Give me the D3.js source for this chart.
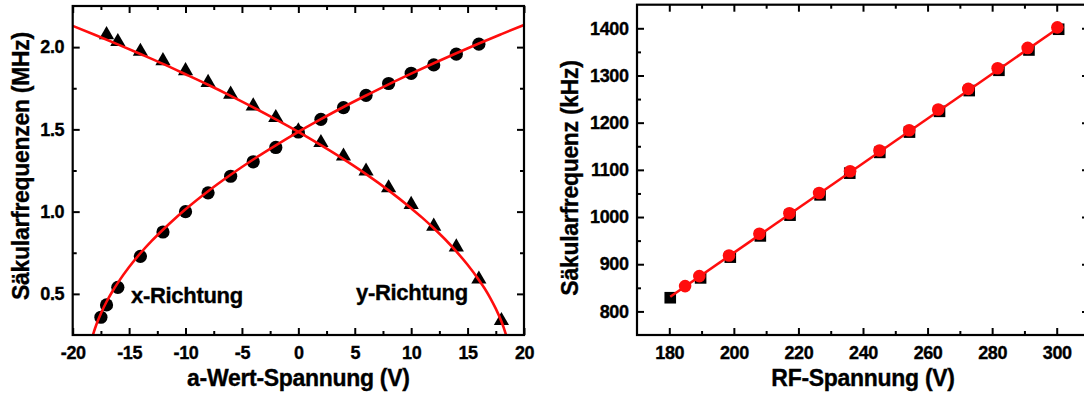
<!DOCTYPE html>
<html>
<head>
<meta charset="utf-8">
<script src="https://cdn.jsdelivr.net/npm/d3@7"></script>
<style>
  body { margin: 0; background: #fff; }
  svg { display: block; font-family: "Liberation Sans", Arial, sans-serif; font-weight: bold; }
  svg text { stroke: #000; stroke-width: 0.35px; }
</style>
</head>
<body>
<svg id="chart" width="1084" height="396"></svg>
<script>
// ---- Left panel: secular frequencies vs. a-voltage ----
const aVoltageX = [-17.5, -17, -16, -14, -12, -10, -8, -6, -4, -2, 0, 2, 4, 6, 8, 10, 12, 14, 16];
const freqX     = [0.358, 0.433, 0.54, 0.728, 0.876, 1.0, 1.114, 1.215, 1.303, 1.39, 1.484, 1.561, 1.632, 1.707, 1.779, 1.841, 1.892, 1.957, 2.018];

const aVoltageY = [-17, -16, -14, -12, -10, -8, -6, -4, -2, 0, 2, 4, 6, 8, 10, 12, 14, 16, 18];
const freqY     = [2.075, 2.033, 1.974, 1.917, 1.856, 1.785, 1.713, 1.642, 1.571, 1.49, 1.419, 1.337, 1.246, 1.144, 1.043, 0.911, 0.785, 0.589, 0.337];

// fitted curves
const fitXU = [-18.2, -18.1, -18, -17.8, -17.5, -17, -16.5, -16, -15, -14, -13, -12, -11, -10, -8, -6, -4, -2, 0, 2, 4, 6, 8, 10, 12, 14, 16, 18, 20];
const fitXF = [0.251, 0.274, 0.294, 0.332, 0.381, 0.452, 0.513, 0.567, 0.663, 0.747, 0.822, 0.890, 0.954, 1.014, 1.124, 1.224, 1.317, 1.403, 1.485, 1.562, 1.636, 1.706, 1.774, 1.839, 1.902, 1.963, 2.022, 2.079, 2.135];

const fitYU = [-20, -18, -16, -14, -12, -10, -8, -6, -4, -2, 0, 2, 4, 6, 8, 10, 11, 12, 13, 14, 15, 16, 16.5, 17, 17.5, 18, 18.2, 18.4];
const fitYF = [2.129, 2.074, 2.017, 1.958, 1.898, 1.835, 1.771, 1.704, 1.634, 1.561, 1.485, 1.404, 1.319, 1.228, 1.129, 1.020, 0.962, 0.899, 0.832, 0.758, 0.677, 0.585, 0.534, 0.476, 0.410, 0.332, 0.295, 0.252];

const leftXTicks = [-20, -15, -10, -5, 0, 5, 10, 15, 20];
const leftYTicks = [0.5, 1.0, 1.5, 2.0];

// ---- Right panel: secular frequency vs. RF voltage ----
const rfVoltageSq = [180.3, 189.7, 198.9, 208.2, 217.4, 226.7, 235.9, 245.2, 254.4, 263.7, 272.9, 282.1, 291.4, 300.6];
const freqSq      = [829, 871, 915, 960, 1004, 1047, 1093, 1137, 1180, 1224, 1268, 1311, 1354, 1398];

const rfVoltageCirc = [184.9, 189.3, 198.5, 207.9, 217.2, 226.4, 236.0, 245.1, 254.3, 263.3, 272.6, 281.7, 291.0, 300.2];
const freqCirc      = [853.6, 874.8, 918.6, 964.5, 1008, 1051, 1097, 1141, 1184, 1228, 1271.6, 1315.3, 1358.4, 1402];

const fitRFU = [180.3, 300.2];
const fitRFF = [831, 1399];

const rightXTicks = [180, 200, 220, 240, 260, 280, 300];
const rightYTicks = [800, 900, 1000, 1100, 1200, 1300, 1400];

const RED = "#ff0d0d";
const svg = d3.select("#chart");

function framePanel(x, y, opt) {
  const g = svg.append("g");
  const [x0, x1] = x.range();
  const [y0, y1] = y.range();
  const major = 7, minor = 4;

  const fmtX = opt.fmtX, fmtY = opt.fmtY;

  // bottom
  g.append("g").attr("transform", `translate(0,${y0})`)
    .call(d3.axisBottom(x).tickValues(opt.xMinor).tickSize(-minor).tickFormat(""));
  g.append("g").attr("class", "tl").attr("transform", `translate(0,${y0})`)
    .call(d3.axisBottom(x).tickValues(opt.xMajor).tickSize(-major).tickPadding(11).tickFormat(fmtX));
  // top
  g.append("g").attr("transform", `translate(0,${y1})`)
    .call(d3.axisTop(x).tickValues(opt.xMinor).tickSize(-minor).tickFormat(""));
  g.append("g").attr("transform", `translate(0,${y1})`)
    .call(d3.axisTop(x).tickValues(opt.xMajor).tickSize(-major).tickFormat(""));
  // left
  g.append("g").attr("transform", `translate(${x0},0)`)
    .call(d3.axisLeft(y).tickValues(opt.yMinor).tickSize(-minor).tickFormat(""));
  g.append("g").attr("class", "tl").attr("transform", `translate(${x0},0)`)
    .call(d3.axisLeft(y).tickValues(opt.yMajor).tickSize(-major).tickPadding(8.5).tickFormat(fmtY));
  // right
  g.append("g").attr("transform", `translate(${x1},0)`)
    .call(d3.axisRight(y).tickValues(opt.yMinor).tickSize(-minor).tickFormat(""));
  g.append("g").attr("transform", `translate(${x1},0)`)
    .call(d3.axisRight(y).tickValues(opt.yMajor).tickSize(-major).tickFormat(""));

  g.selectAll(".domain").remove();
  g.selectAll(".tick line").attr("stroke", "#000").attr("stroke-width", 2);
  g.selectAll(".tl text").attr("font-size", 18).attr("font-family", "Liberation Sans, Arial, sans-serif")
    .attr("font-weight", "bold").attr("fill", "#000").attr("letter-spacing", "-0.4px");

  g.append("rect").attr("x", x0).attr("y", y1).attr("width", x1 - x0).attr("height", y0 - y1)
    .attr("fill", "none").attr("stroke", "#000").attr("stroke-width", 2.2);

  // axis titles
  svg.append("text").attr("x", (x0 + x1) / 2).attr("y", 386).attr("text-anchor", "middle")
    .attr("font-size", 23).attr("letter-spacing", "-0.3px").text(opt.xTitle);
  svg.append("text").attr("transform", `translate(${opt.yTitleX},${opt.yTitleY}) rotate(-90)`)
    .attr("text-anchor", "middle").attr("font-size", 23).attr("letter-spacing", "-0.3px").text(opt.yTitle);
}

// plain hyphen for negative tick labels
const hyphenInt = d => String(d);

// ---------- Left panel ----------
const xL = d3.scaleLinear().domain([-20, 20]).range([72.7, 524]);
const yL = d3.scaleLinear().domain([0.25, 2.25]).range([335, 6]);

svg.append("clipPath").attr("id", "clipL").append("rect")
  .attr("x", 72.7).attr("y", 6).attr("width", 524 - 72.7).attr("height", 335 - 6);

const left = svg.append("g");
const lineL = d3.line().x(d => xL(d[0])).y(d => yL(d[1])).curve(d3.curveMonotoneX);

left.append("g").selectAll("circle").data(d3.zip(aVoltageX, freqX)).join("circle")
  .attr("cx", d => xL(d[0])).attr("cy", d => yL(d[1])).attr("r", 6.6).attr("fill", "#000");

const tri = d3.symbol().type(d3.symbolTriangle).size(100);
left.append("g").selectAll("path").data(d3.zip(aVoltageY, freqY)).join("path")
  .attr("transform", d => `translate(${xL(d[0])},${yL(d[1])})`).attr("d", tri).attr("fill", "#000");

const curves = left.append("g").attr("clip-path", "url(#clipL)");
curves.append("path").datum(d3.zip(fitXU, fitXF)).attr("d", lineL)
  .attr("fill", "none").attr("stroke", RED).attr("stroke-width", 2.6);
curves.append("path").datum(d3.zip(fitYU, fitYF)).attr("d", lineL)
  .attr("fill", "none").attr("stroke", RED).attr("stroke-width", 2.6);

svg.append("text").attr("x", 131).attr("y", 303).attr("font-size", 22).attr("letter-spacing", "-0.3px").text("x-Richtung");
svg.append("text").attr("x", 356).attr("y", 300).attr("font-size", 22).attr("letter-spacing", "-0.3px").text("y-Richtung");

framePanel(xL, yL, {
  xMajor: leftXTicks, xMinor: d3.range(-17.5, 20, 5),
  yMajor: leftYTicks, yMinor: [0.75, 1.25, 1.75],
  fmtX: hyphenInt, fmtY: d3.format(".1f"),
  xTitle: "a-Wert-Spannung (V)", yTitle: "Säkularfrequenzen (MHz)",
  yTitleX: 29, yTitleY: 166
});

// ---------- Right panel ----------
const xR = d3.scaleLinear().domain([170, 310]).range([637, 1089]);
const yR = d3.scaleLinear().domain([750, 1450]).range([335, 4.7]);

const right = svg.append("g");
right.append("g").selectAll("rect").data(d3.zip(rfVoltageSq, freqSq)).join("rect")
  .attr("x", d => xR(d[0]) - 5.8).attr("y", d => yR(d[1]) - 5.8)
  .attr("width", 11.6).attr("height", 11.6).attr("fill", "#000");

right.append("path").datum(d3.zip(fitRFU, fitRFF))
  .attr("d", d3.line().x(d => xR(d[0])).y(d => yR(d[1])))
  .attr("fill", "none").attr("stroke", RED).attr("stroke-width", 2.6);

right.append("g").selectAll("circle").data(d3.zip(rfVoltageCirc, freqCirc)).join("circle")
  .attr("cx", d => xR(d[0])).attr("cy", d => yR(d[1])).attr("r", 6.3).attr("fill", RED);

framePanel(xR, yR, {
  xMajor: rightXTicks, xMinor: d3.range(190, 310, 20),
  yMajor: rightYTicks, yMinor: d3.range(850, 1450, 100),
  fmtX: hyphenInt, fmtY: hyphenInt,
  xTitle: "RF-Spannung (V)", yTitle: "Säkularfrequenz (kHz)",
  yTitleX: 578, yTitleY: 178
});
</script>
</body>
</html>
